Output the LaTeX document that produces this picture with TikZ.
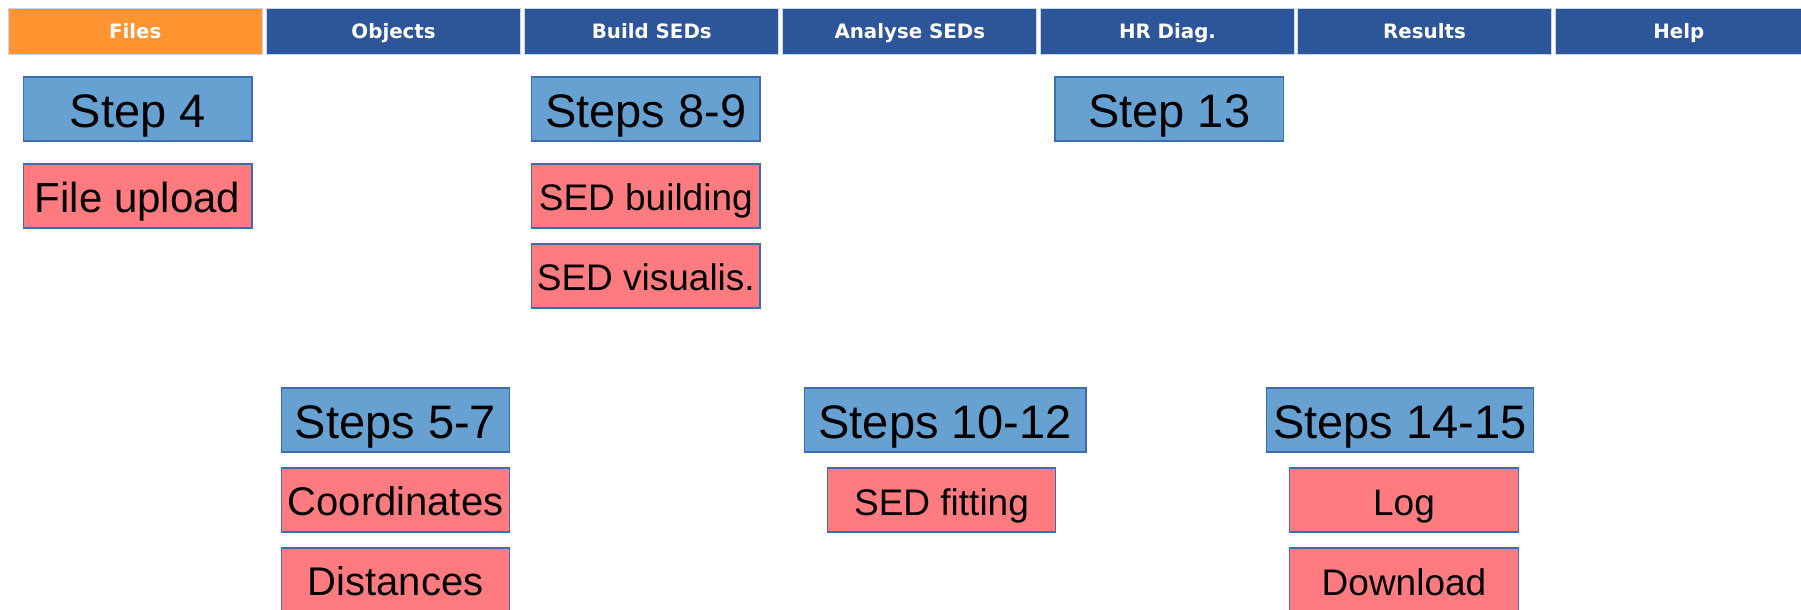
\documentclass[tikz,border=0pt]{standalone}
\usepackage{fontspec}
\setmainfont{Liberation Sans}
\newfontfamily\tabfont{DejaVu Sans}
\definecolor{taborange}{HTML}{FF9430}
\definecolor{tabblue}{HTML}{2D5599}
\definecolor{tabedge}{HTML}{C8D6EA}
\definecolor{stepfill}{HTML}{66A1D2}
\definecolor{boxedge}{HTML}{3C6EAF}
\definecolor{taskfill}{HTML}{FF7B7F}
\tikzset{
  tab/.style={draw=tabedge, line width=0.6pt, fill=tabblue, text=white,
    minimum width=127pt, minimum height=23pt, inner sep=0pt,
    text height=7.4pt, text depth=0pt,
    font=\tabfont\bfseries\fontsize{9.9}{12}\selectfont},
  stepbox/.style={draw=boxedge, line width=0.6pt, fill=stepfill, text=black,
    minimum width=114.25pt, minimum height=32pt, inner sep=0pt,
    text height=18.5pt, text depth=0pt,
    font=\fontsize{23.5}{28}\selectfont},
  taskbox/.style={draw=boxedge, line width=0.6pt, fill=taskfill, text=black,
    minimum width=114.25pt, minimum height=32pt, inner sep=0pt,
    text height=15pt, text depth=0pt,
    font=\fontsize{18.5}{22}\selectfont}
}
\begin{document}
\begin{tikzpicture}[x=0.5pt,y=-0.5pt]
\useasboundingbox[fill=white] (0,0) rectangle (1801,610);
% tabs
\node[tab, fill=taborange] (tFiles)   at (135.2,31.5) {Files};
\node[tab] (tObjects) at (393.6,31.5) {Objects};
\node[tab] (tBuild)   at (651.8,31.5) {Build SEDs};
\node[tab] (tAnalyse) at (909.8,31.5) {Analyse SEDs};
\node[tab] (tHR)      at (1167.5,31.5) {HR Diag.};
\node[tab] (tResults) at (1424.5,31.5) {Results};
\node[tab, minimum width=123pt] (tHelp) at (1678.8,31.5) {Help};
% top row
\node[stepbox] (s4)   at (137.7,109) {Step 4};
\node[taskbox, text height=16.5pt, font=\fontsize{21}{25}\selectfont] (fup) at (137.7,196) {File upload};
\node[stepbox] (s89)  at (645.8,109) {Steps 8-9};
\node[taskbox] (sedb) at (645.8,196) {SED building};
\node[taskbox] (sedv) at (645.8,276) {SED visualis.};
\node[stepbox] (s13)  at (1169.3,109) {Step 13};
% bottom row
\node[stepbox] (s57)  at (395.5,420) {Steps 5-7};
\node[taskbox, text height=15.8pt, font=\fontsize{20}{24}\selectfont] (coord) at (395.5,500) {Coordinates};
\node[taskbox, text height=15.8pt, font=\fontsize{20}{24}\selectfont] (dist)  at (395.5,580) {Distances};
\node[stepbox, minimum width=140.85pt] (s1012) at (945.2,420) {Steps 10-12};
\node[taskbox] (sedf) at (941.5,500) {SED fitting};
\node[stepbox, minimum width=133.3pt] (s1415) at (1400,420) {Steps 14-15};
\node[taskbox] (log)  at (1404,500) {Log};
\node[taskbox] (dl)   at (1404,580) {Download};
\end{tikzpicture}
\end{document}
